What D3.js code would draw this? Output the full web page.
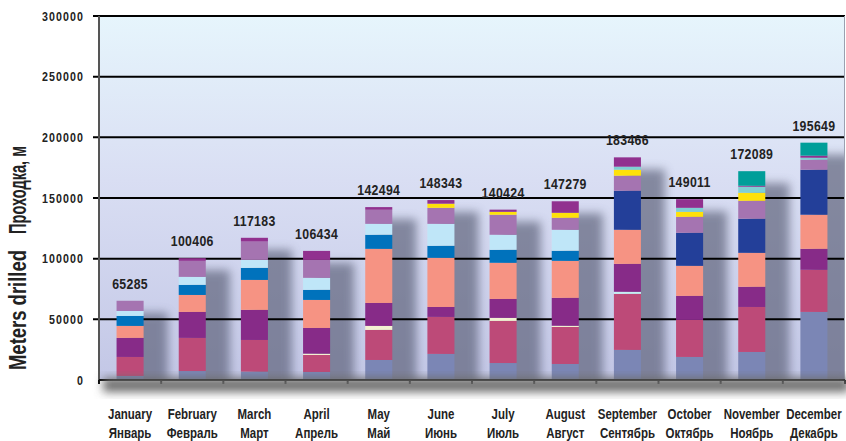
<!DOCTYPE html>
<html>
<head>
<meta charset="utf-8">
<script src="https://cdn.jsdelivr.net/npm/d3@7"></script>
<style>
  body { margin: 0; background: #fff; }
  text { font-family: "Liberation Sans", Arial, sans-serif; font-weight: bold; fill: #222; }
</style>
</head>
<body>
<div id="chart"></div>
<script>
// ---------------- data (meters) ----------------
var months = ["January", "February", "March", "April", "May", "June", "July", "August", "September", "October", "November", "December"];
var monthsRu = ["Январь", "Февраль", "Март", "Апрель", "Май", "Июнь", "Июль", "Август", "Сентябрь", "Октябрь", "Ноябрь", "Декабрь"];
var totals = [65285, 100406, 117183, 106434, 142494, 148343, 140424, 147279, 183466, 149011, 172089, 195649];
var yTicks = [0, 50000, 100000, 150000, 200000, 250000, 300000];

// stacked segments, bottom to top
var slate     = [3300, 7400, 6900, 6600, 16500, 21500, 14000, 13200, 24800, 19000, 23100, 56100];
var raspberry = [15700, 27300, 26100, 14000, 24800, 30500, 34700, 30500, 46200, 30500, 37100, 34700];
var cream     = [0, 0, 0, 1100, 3300, 0, 2500, 1000, 0, 0, 0, 0];
var cyan      = [0, 0, 0, 0, 0, 0, 0, 0, 1700, 0, 0, 0];
var purple    = [15700, 21400, 24800, 21200, 18900, 8200, 15600, 23000, 23000, 19800, 16600, 17300];
var salmon    = [9900, 14000, 24700, 23100, 44600, 40500, 29800, 30500, 28100, 24800, 28000, 28100];
var blue      = [8200, 8300, 9900, 8300, 11600, 9900, 10700, 8300, 0, 0, 0, 0];
var navy      = [0, 0, 0, 0, 0, 0, 0, 0, 32200, 27200, 28100, 37100];
var lightBlue = [4100, 6600, 6600, 9900, 9000, 18100, 12400, 17300, 0, 0, 0, 0];
var lavender  = [8400, 13200, 15100, 14800, 11600, 13200, 16500, 9900, 12400, 13200, 14800, 8300];
var yellow    = [0, 0, 0, 0, 0, 3400, 2400, 4100, 4900, 4100, 6600, 0];
var lightTeal = [0, 0, 0, 0, 0, 0, 0, 0, 2500, 3300, 5000, 1600];
var topPurple = [0, 2200, 3100, 7400, 2200, 3000, 1800, 9500, 7700, 7100, 800, 1700];
var teal      = [0, 0, 0, 0, 0, 0, 0, 0, 0, 0, 12000, 10700];

var seriesKeys = ["slate", "raspberry", "cream", "cyan", "purple", "salmon", "blue", "navy", "lightBlue", "lavender", "yellow", "lightTeal", "topPurple", "teal"];
var seriesValues = [slate, raspberry, cream, cyan, purple, salmon, blue, navy, lightBlue, lavender, yellow, lightTeal, topPurple, teal];
var seriesColors = ["#7b86b5", "#bd4a78", "#f3f1d2", "#c6eef2", "#872b88", "#f69383", "#0072bc", "#233f99", "#bfe6f8", "#a574b1", "#ffe10a", "#7fcfd3", "#91318f", "#009e99"];

// build table rows for d3.stack
var table = months.map(function(m, i) {
    var row = { month: m };
    seriesKeys.forEach(function(k, j) { row[k] = seriesValues[j][i]; });
    return row;
});

// ---------------- layout ----------------
var svgWidth = 846;
var svgHeight = 441;
var margin = { top: 16, right: 1, bottom: 61, left: 99 };
var chartWidth = svgWidth - margin.left - margin.right;
var chartHeight = svgHeight - margin.top - margin.bottom;
var narrow = 0.82; // horizontal squeeze to mimic a condensed face

var svg = d3.select("#chart")
    .append("svg")
    .attr("width", svgWidth)
    .attr("height", svgHeight);

var defs = svg.append("defs");

var bg = defs.append("linearGradient")
    .attr("id", "bgGrad")
    .attr("x1", 0).attr("y1", 0).attr("x2", 0).attr("y2", 1);
bg.append("stop").attr("offset", "0%").attr("stop-color", "#e6f5fc");
bg.append("stop").attr("offset", "45%").attr("stop-color", "#d9def3");
bg.append("stop").attr("offset", "100%").attr("stop-color", "#c3c7e6");

defs.append("filter").attr("id", "blur")
    .attr("x", "-50%").attr("y", "-50%").attr("width", "200%").attr("height", "200%")
    .append("feGaussianBlur").attr("stdDeviation", 5);

var chartGroup = svg.append("g")
    .attr("transform", `translate(${margin.left}, ${margin.top})`);

var xScale = d3.scaleBand()
    .domain(months)
    .range([0, chartWidth])
    .paddingInner(0.565)
    .paddingOuter(0.2825);

var yScale = d3.scaleLinear()
    .domain([0, 300000])
    .range([chartHeight, 0]);

// helper: condensed text anchored at (x, y)
function narrowText(parent, x, y, str, size, anchor, spacing) {
    return parent.append("g")
        .attr("transform", `translate(${x}, ${y}) scale(${narrow}, 1)`)
        .append("text")
        .attr("text-anchor", anchor)
        .style("font-size", size + "px")
        .style("letter-spacing", (spacing || 0) + "px")
        .text(str);
}

// plot background
chartGroup.append("rect")
    .attr("width", chartWidth)
    .attr("height", chartHeight)
    .attr("fill", "url(#bgGrad)");

// shadow under the x axis
svg.append("rect")
    .attr("x", margin.left + 4)
    .attr("y", margin.top + chartHeight - 2)
    .attr("width", chartWidth)
    .attr("height", 14)
    .attr("fill", "#6e6e6e")
    .attr("filter", "url(#blur)");

var stacked = d3.stack().keys(seriesKeys)(table);

// bar shadows
var clip = defs.append("clipPath").attr("id", "plotClip");
clip.append("rect").attr("width", chartWidth).attr("height", chartHeight);

chartGroup.append("g")
    .attr("clip-path", "url(#plotClip)")
    .selectAll("rect")
    .data(totals)
    .enter()
    .append("rect")
    .attr("x", (d, i) => xScale(months[i]) + 12)
    .attr("y", d => yScale(d) + 12)
    .attr("width", xScale.bandwidth() + 12)
    .attr("height", d => chartHeight - yScale(d) + 20)
    .attr("fill", "#5c6178")
    .attr("opacity", 0.68)
    .attr("filter", "url(#blur)");

// gridlines
chartGroup.append("g")
    .selectAll("line")
    .data(yTicks.slice(1))
    .enter()
    .append("line")
    .attr("x1", -6)
    .attr("x2", chartWidth)
    .attr("y1", d => yScale(d))
    .attr("y2", d => yScale(d))
    .attr("stroke", "#000")
    .attr("stroke-width", 2);

// stacked bars
chartGroup.append("g")
    .selectAll("g")
    .data(stacked)
    .enter()
    .append("g")
    .attr("fill", (d, i) => seriesColors[i])
    .selectAll("rect")
    .data(d => d)
    .enter()
    .append("rect")
    .attr("x", d => xScale(d.data.month))
    .attr("y", d => yScale(d[1]))
    .attr("width", xScale.bandwidth())
    .attr("height", d => yScale(d[0]) - yScale(d[1]));

// left axis line and right border
chartGroup.append("line")
    .attr("x1", 0).attr("x2", 0)
    .attr("y1", 0).attr("y2", chartHeight)
    .attr("stroke", "#555").attr("stroke-width", 2);
chartGroup.append("line")
    .attr("x1", chartWidth - 0.5).attr("x2", chartWidth - 0.5)
    .attr("y1", 0).attr("y2", chartHeight)
    .attr("stroke", "#9aa0b0").attr("stroke-width", 1);

// y tick labels
yTicks.forEach(function(t) {
    narrowText(chartGroup, -15, yScale(t) + 4.5, t, 13, "end", 1.3);
});

// x axis with ticks at band edges
chartGroup.append("line")
    .attr("x1", 0).attr("x2", chartWidth)
    .attr("y1", chartHeight).attr("y2", chartHeight)
    .attr("stroke", "#000").attr("stroke-width", 2);

chartGroup.append("g")
    .selectAll("line")
    .data(d3.range(months.length + 1))
    .enter()
    .append("line")
    .attr("x1", i => i * xScale.step())
    .attr("x2", i => i * xScale.step())
    .attr("y1", chartHeight)
    .attr("y2", chartHeight + 4)
    .attr("stroke", "#000")
    .attr("stroke-width", 2);

// month labels, English and Russian
months.forEach(function(m, i) {
    var cx = xScale(m) + xScale.bandwidth() / 2;
    narrowText(chartGroup, cx, chartHeight + 39, m, 14, "middle");
    narrowText(chartGroup, cx, chartHeight + 58, monthsRu[i], 14, "middle");
});

// totals above bars
totals.forEach(function(t, i) {
    var cx = xScale(months[i]) + xScale.bandwidth() / 2;
    narrowText(chartGroup, cx, yScale(t) - 12, t, 15, "middle", 0.4);
});

// y axis title, two parts
svg.append("text")
    .attr("transform", "translate(26, 310) rotate(-90)")
    .attr("text-anchor", "middle")
    .attr("textLength", 120)
    .attr("lengthAdjust", "spacingAndGlyphs")
    .style("font-size", "23px")
    .text("Meters drilled");

svg.append("text")
    .attr("transform", "translate(26, 190) rotate(-90)")
    .attr("text-anchor", "middle")
    .attr("textLength", 88)
    .attr("lengthAdjust", "spacingAndGlyphs")
    .style("font-size", "23px")
    .text("Проходка, м");
</script>
</body>
</html>
